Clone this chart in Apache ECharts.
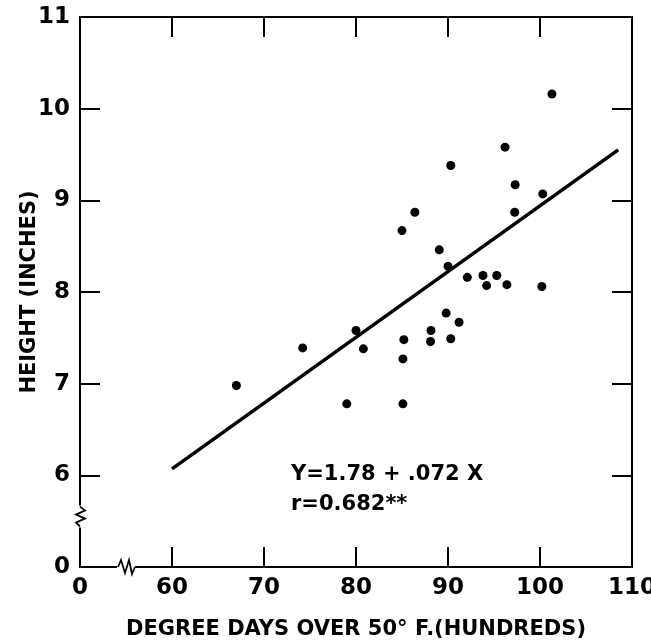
<!DOCTYPE html>
<html>
<head>
<meta charset="utf-8">
<script src="https://cdn.jsdelivr.net/npm/echarts@6/dist/echarts.min.js"></script>
<style>
  html, body { margin: 0; padding: 0; background: #fff; }
  #chart { width: 651px; height: 640px; }
</style>
</head>
<body>
<div id="chart"></div>
<script>
// observed points: degree days (hundreds) vs height (inches)
const degreeDays = [101.3, 96.2, 90.3, 97.3, 100.3, 97.25, 86.4, 85.0, 89.05, 90.0,
  92.1, 93.8, 95.3, 94.2, 96.4, 100.2, 89.8, 91.2, 88.15, 80.0,
  74.2, 80.8, 85.2, 88.1, 90.3, 85.1, 67.0, 79.0, 85.1];
const heights = [10.16, 9.58, 9.38, 9.17, 9.07, 8.87, 8.87, 8.67, 8.46, 8.28,
  8.16, 8.18, 8.18, 8.07, 8.08, 8.06, 7.77, 7.67, 7.58, 7.58,
  7.39, 7.38, 7.48, 7.46, 7.49, 7.27, 6.98, 6.78, 6.78];

// fitted line at its two ends
const fitX = [60, 108.5];
const fitY = [6.07, 9.55];

const equation = 'Y=1.78 + .072 X';
const corr = 'r=0.682**';

const FONT = 'DejaVu Sans';
const ink = '#000';

let chart = echarts.init(document.getElementById('chart'));

let points = degreeDays.map((x, i) => [x, heights[i]]);
let fitLine = fitX.map((x, i) => [x, fitY[i]]);

// little zig-zag marks where the axes are broken
function breakMark(params, api) {
  let horizontal = api.value(2) === 0;
  let p = api.coord([api.value(0), api.value(1)]);
  let pts = [];
  if (horizontal) {
    pts = [[p[0] - 8, p[1]], [p[0] - 5, p[1] - 7], [p[0] - 1, p[1] + 6], [p[0] + 3, p[1] - 7],
           [p[0] + 6, p[1] + 7], [p[0] + 9, p[1]]];
  } else {
    pts = [[p[0], p[1] + 10], [p[0] - 4, p[1] + 6], [p[0] + 5, p[1] + 2], [p[0] - 4, p[1] - 2],
           [p[0] + 5, p[1] - 6], [p[0], p[1] - 10]];
  }
  let cover = horizontal
    ? { x: p[0] - 9, y: p[1] - 2, width: 18, height: 4 }
    : { x: p[0] - 2, y: p[1] - 11, width: 4, height: 22 };
  return {
    type: 'group',
    children: [
      { type: 'rect', shape: cover, style: { fill: '#fff' } },
      { type: 'polyline', shape: { points: pts }, style: { stroke: ink, lineWidth: 1.8, fill: null } }
    ]
  };
}

let option = {
  backgroundColor: '#fff',
  animation: false,
  grid: { left: 80, right: 19, top: 17, bottom: 73, containLabel: false, outerBoundsMode: 'none' },
  xAxis: [
    {
      type: 'value', min: 50, max: 110, interval: 10,
      name: 'DEGREE DAYS OVER 50° F.(HUNDREDS)',
      nameLocation: 'middle', nameGap: 52, nameMoveOverlap: false,
      nameTextStyle: { fontFamily: FONT, fontSize: 21, fontWeight: 'bold', color: ink },
      axisLine: { lineStyle: { color: ink, width: 2 } },
      axisTick: { inside: true, length: 20, lineStyle: { color: ink, width: 2 } },
      axisLabel: {
        fontFamily: FONT, fontSize: 23, fontWeight: 'bold', color: ink, margin: 10,
        formatter: v => (v === 50 ? '0' : String(v))
      },
      splitLine: { show: false }
    },
    {
      type: 'value', min: 50, max: 110, interval: 10, position: 'top',
      axisLine: { lineStyle: { color: ink, width: 2 } },
      axisTick: { inside: true, length: 20, lineStyle: { color: ink, width: 2 } },
      axisLabel: { show: false },
      splitLine: { show: false }
    }
  ],
  yAxis: [
    {
      type: 'value', min: 5, max: 11, interval: 1,
      name: 'HEIGHT (INCHES)',
      nameLocation: 'middle', nameGap: 40, nameMoveOverlap: false,
      nameTextStyle: { fontFamily: FONT, fontSize: 21, fontWeight: 'bold', color: ink },
      axisLine: { lineStyle: { color: ink, width: 2 } },
      axisTick: { inside: true, length: 20, lineStyle: { color: ink, width: 2 } },
      axisLabel: {
        fontFamily: FONT, fontSize: 23, fontWeight: 'bold', color: ink, margin: 10,
        formatter: v => (v === 5 ? '0' : String(v))
      },
      splitLine: { show: false }
    },
    {
      type: 'value', min: 5, max: 11, interval: 1, position: 'right',
      axisLine: { lineStyle: { color: ink, width: 2 } },
      axisTick: { inside: true, length: 20, lineStyle: { color: ink, width: 2 } },
      axisLabel: { show: false },
      splitLine: { show: false }
    }
  ],
  graphic: [
    { type: 'text', left: 291, top: 464, style: { text: equation, font: 'bold 21px "DejaVu Sans"', fill: ink } },
    { type: 'text', left: 291, top: 494, style: { text: corr, font: 'bold 21px "DejaVu Sans"', fill: ink } }
  ],
  series: [
    {
      type: 'line', data: fitLine, symbol: 'none',
      lineStyle: { color: ink, width: 3.5 }, z: 3
    },
    {
      type: 'scatter', data: points, symbol: 'circle', symbolSize: 9,
      itemStyle: { color: ink, opacity: 1 }, z: 4
    },
    {
      type: 'custom', renderItem: breakMark, clip: false, z: 10,
      data: [[55, 5, 0], [50, 5.55, 1]]
    }
  ]
};

chart.setOption(option);
</script>
</body>
</html>
